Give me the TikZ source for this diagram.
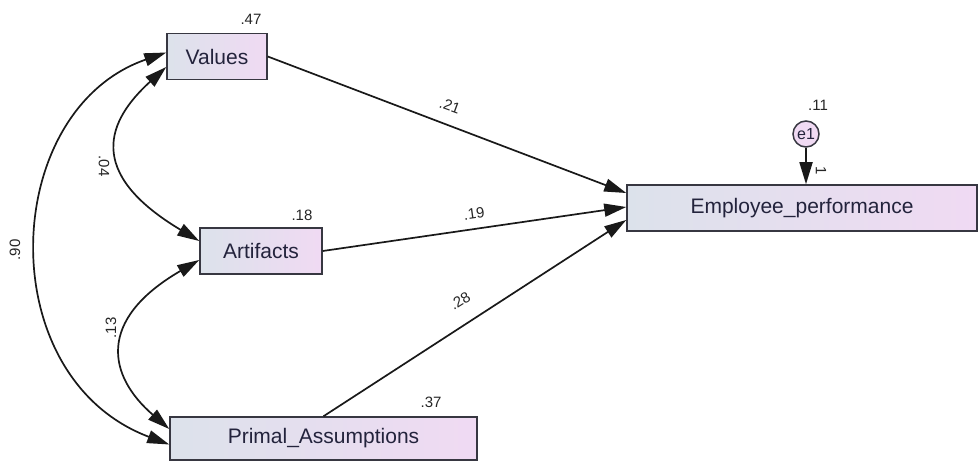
\documentclass[tikz,border=0pt]{standalone}
\usepackage{fontspec}
\setmainfont{Liberation Sans}
\usetikzlibrary{arrows.meta,calc}
\definecolor{boxL}{RGB}{220,226,235}
\definecolor{boxR}{RGB}{240,218,243}
\definecolor{txt}{RGB}{35,35,60}
\definecolor{edge}{RGB}{55,55,65}
\begin{document}
\begin{tikzpicture}[x=1pt,y=-1pt,
 var/.style={draw=edge, line width=1.5pt, left color=boxL, right color=boxR, text=txt, font=\fontsize{21}{25}\selectfont, inner sep=0pt},
 lab/.style={font=\fontsize{15}{18}\selectfont, text=black!85, inner sep=0pt},
 pathar/.style={line width=1.7pt, draw=black!90, -{Triangle[length=22pt,width=13pt]}},
 cov/.style={line width=1.7pt, draw=black!90, {Triangle[length=22pt,width=13pt]}-{Triangle[length=22pt,width=13pt]}}]
\fill[white] (0,0) rectangle (979,462);
\useasboundingbox (0,0) rectangle (979,462);

\node[var, minimum width=100pt, minimum height=46pt] (V) at (217,56.5) {Values};
\node[var, minimum width=122pt, minimum height=46pt] (A) at (261,251) {Artifacts};
\node[var, minimum width=307pt, minimum height=43pt] (P) at (323.5,438.5) {Primal\_Assumptions};
\node[var, minimum width=350pt, minimum height=46pt] (E) at (802,208) {Employee\_performance};
\node[circle, draw=edge, line width=1.5pt, fill=boxR, minimum size=26pt, inner sep=0pt, font=\fontsize{16}{18}\selectfont, text=txt] (e1) at (806,134) {e1};

\draw[pathar] (V.east) -- ([yshift=15pt]E.west);
\draw[pathar] (A.east) -- ([yshift=1pt]E.west);
\draw[pathar] (P.north) -- ([yshift=-12pt]E.west);
\draw[pathar] (e1) -- (E.north -| e1);

\draw[cov] ([yshift=4pt]V.west) .. controls (0,110) and (-10,377) .. ([yshift=-6pt]P.west);
\draw[cov] ([yshift=-10.5pt]V.west) .. controls (108,120) and (84,172) .. ([yshift=10pt]A.west);
\draw[cov] ([yshift=-9pt]A.west) .. controls (96,320) and (108,376) .. ([yshift=9.5pt]P.west);

\node[lab] (l47) at (251,19) {.47};
\node[lab] (l18) at (302,215) {.18};
\node[lab] (l37) at (431,402) {.37};
\node[lab] (l11) at (818,105) {.11};
\node[lab, rotate=-20] (l21) at (450,106) {.21};
\node[lab, rotate=8] (l19) at (474,214) {.19};
\node[lab, rotate=32] (l28) at (460,301) {.28};
\node[lab, rotate=-90] (l04) at (104,166) {.04};
\node[lab, rotate=90] (l90) at (15,250) {.90};
\node[lab, rotate=90] (l13) at (111,328) {.13};
\node[lab, rotate=-90] (l1) at (821,171) {1};
\end{tikzpicture}
\end{document}
